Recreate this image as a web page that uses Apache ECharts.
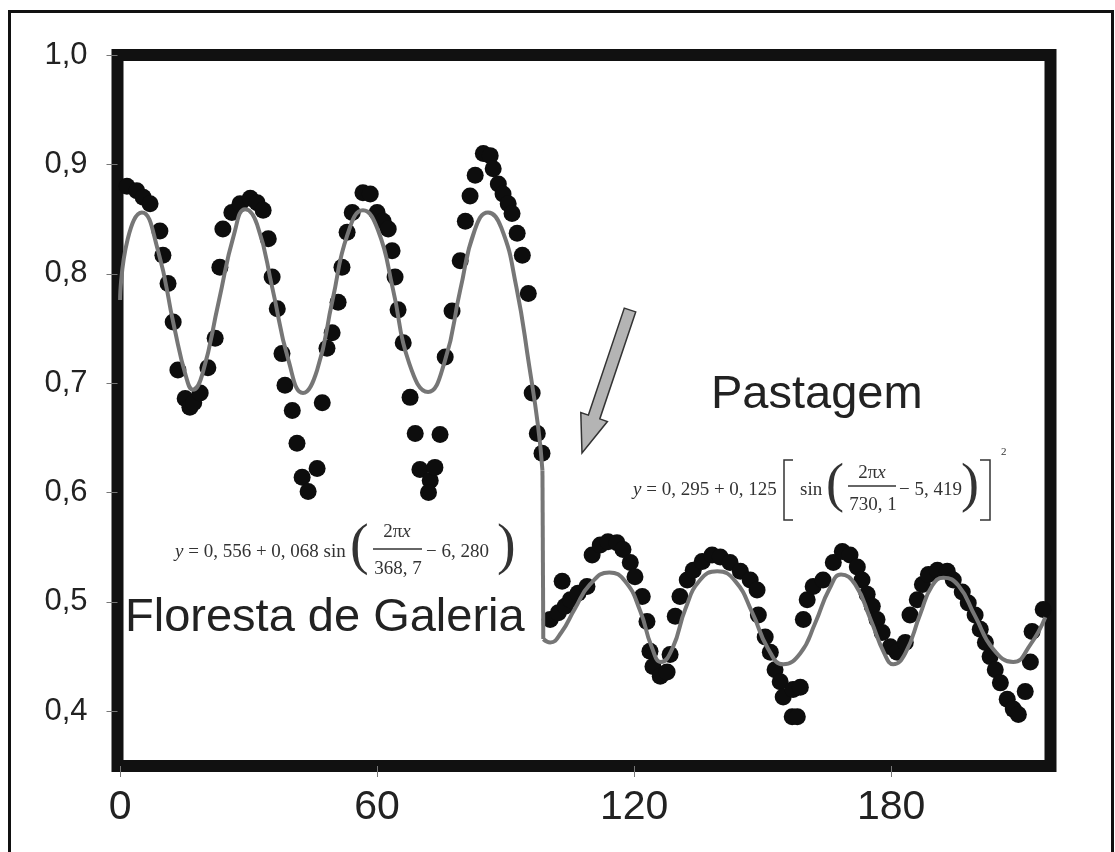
<!DOCTYPE html>
<html>
<head>
<meta charset="utf-8">
<title>Floresta de Galeria x Pastagem</title>
<script src="https://cdn.jsdelivr.net/npm/echarts@6/dist/echarts.min.js"></script>
<style>
  html, body { margin: 0; padding: 0; background: #fff; }
  #main { width: 1115px; height: 852px; }
</style>
</head>
<body>
<div id="main"></div>
<script>
// tick labels
var xTicks = [0, 60, 120, 180];
var yTicks = [0.4, 0.5, 0.6, 0.7, 0.8, 0.9, 1.0];

// observed points - Floresta de Galeria
var florestaPts = [
  [1.6, 0.880], [3.9, 0.876], [5.4, 0.870], [7.0, 0.864], [9.3, 0.839], [10.0, 0.817],
  [11.2, 0.791], [12.4, 0.756], [13.5, 0.712], [15.2, 0.686], [16.3, 0.678], [17.2, 0.682],
  [18.7, 0.691], [20.5, 0.714], [22.2, 0.741], [23.3, 0.806], [24.0, 0.841], [26.1, 0.856],
  [28.0, 0.864], [30.4, 0.869], [32.0, 0.865], [33.4, 0.858], [34.6, 0.832], [35.5, 0.797],
  [36.7, 0.768], [37.8, 0.727], [38.5, 0.698], [40.2, 0.675], [41.3, 0.645], [42.5, 0.614],
  [43.9, 0.601], [46.0, 0.622], [47.2, 0.682], [48.3, 0.732], [49.5, 0.746], [50.9, 0.774],
  [51.8, 0.806], [53.0, 0.838], [54.2, 0.856], [56.7, 0.874], [58.4, 0.873], [60.0, 0.856],
  [61.4, 0.848], [62.6, 0.841], [63.5, 0.821], [64.2, 0.797], [64.9, 0.767], [66.1, 0.737],
  [67.7, 0.687], [68.9, 0.654], [74.7, 0.653], [70.0, 0.621], [72.4, 0.611], [73.5, 0.623],
  [72.0, 0.600], [75.9, 0.724], [77.5, 0.766], [79.4, 0.812], [80.6, 0.848], [81.7, 0.871],
  [82.9, 0.890], [84.8, 0.910], [86.4, 0.908], [87.1, 0.896], [88.3, 0.882], [89.4, 0.873],
  [90.6, 0.864], [91.5, 0.855], [92.7, 0.837], [93.9, 0.817], [95.3, 0.782], [96.2, 0.691],
  [97.4, 0.654], [98.5, 0.636]
];

// observed points - Pastagem
var pastagemPts = [
  [100.4, 0.484], [102.3, 0.490], [103.9, 0.496], [105.1, 0.502], [103.2, 0.519], [106.9, 0.508],
  [109.0, 0.514], [110.2, 0.543], [112.1, 0.552], [113.9, 0.555], [116.0, 0.554], [117.4, 0.548],
  [119.1, 0.536], [120.2, 0.523], [121.9, 0.505], [123.0, 0.482], [123.7, 0.455], [124.4, 0.441],
  [126.1, 0.432], [127.7, 0.436], [128.4, 0.452], [129.6, 0.487], [130.7, 0.505], [132.4, 0.520],
  [133.8, 0.529], [135.9, 0.537], [138.2, 0.543], [140.1, 0.541], [142.4, 0.536], [144.8, 0.528],
  [147.1, 0.520], [148.7, 0.511], [149.0, 0.488], [150.6, 0.468], [151.8, 0.454], [152.9, 0.438],
  [154.1, 0.427], [154.8, 0.413], [157.1, 0.420], [158.8, 0.422], [156.9, 0.395], [158.1, 0.395],
  [159.5, 0.484], [160.4, 0.502], [161.8, 0.514], [164.1, 0.520], [166.5, 0.536], [168.6, 0.546],
  [170.4, 0.543], [172.1, 0.532], [173.2, 0.520], [174.4, 0.507], [175.6, 0.496], [176.7, 0.484],
  [177.9, 0.472], [179.8, 0.459], [181.4, 0.454], [183.3, 0.463], [184.4, 0.488], [186.1, 0.502],
  [187.3, 0.516], [188.7, 0.525], [190.8, 0.529], [193.1, 0.528], [194.5, 0.520], [196.6, 0.509],
  [198.0, 0.499], [199.6, 0.488], [200.8, 0.475], [202.0, 0.463], [203.1, 0.450], [204.3, 0.438],
  [205.5, 0.426], [207.1, 0.411], [208.5, 0.402], [209.7, 0.397], [211.3, 0.418], [212.5, 0.445],
  [212.9, 0.473], [215.5, 0.493]
];

// fitted curves
var florestaFit = [
  [0, 0.776], [1.8, 0.832], [5.1, 0.856], [8.8, 0.822], [12.6, 0.752], [15.4, 0.706],
  [17.0, 0.694], [19.2, 0.708], [23.0, 0.774], [26.6, 0.836], [29.2, 0.859], [32.0, 0.845],
  [35.6, 0.786], [39.3, 0.721], [42.7, 0.691], [46.0, 0.712], [49.6, 0.776], [53.1, 0.836],
  [56.7, 0.858], [60.2, 0.840], [63.7, 0.786], [67.5, 0.718], [71.9, 0.692], [75.8, 0.720],
  [79.4, 0.785], [82.8, 0.840], [85.9, 0.856], [89.0, 0.842], [92.5, 0.788], [95.5, 0.716],
  [97.6, 0.660], [98.6, 0.620]
];
var dropFit = [[98.6, 0.620], [98.8, 0.466]];
var pastagemFit = [
  [98.8, 0.466], [100.4, 0.463], [103.0, 0.472], [106.2, 0.494], [109.7, 0.516], [114.2, 0.527],
  [117.9, 0.519], [121.4, 0.492], [124.0, 0.460], [126.3, 0.445], [129.0, 0.458], [132.0, 0.494],
  [135.4, 0.520], [139.4, 0.528], [143.6, 0.519], [147.6, 0.490], [151.3, 0.457], [154.8, 0.443],
  [158.8, 0.453], [162.3, 0.481], [165.6, 0.512], [168.3, 0.525], [171.6, 0.516], [175.2, 0.484],
  [178.4, 0.453], [180.5, 0.443], [183.3, 0.453], [186.8, 0.489], [189.6, 0.515], [192.2, 0.522],
  [195.7, 0.515], [199.6, 0.487], [203.8, 0.457], [208.5, 0.445], [212.5, 0.461], [216.0, 0.486]
];

var chart = echarts.init(document.getElementById("main"));
var sans = "'Liberation Sans', Arial, sans-serif";
var serif = "'Liberation Serif', 'Times New Roman', serif";
var eqColor = "#333";
var fitStyle = { color: "#767676", width: 4 };

function eqText(x, y, text, opt) {
  opt = opt || {};
  return {
    type: "text", x: x, y: y, z: 20,
    style: {
      text: text,
      font: (opt.weight || "normal") + " " + (opt.size || 19) + "px " + serif,
      fill: eqColor,
      align: opt.align || "left",
      verticalAlign: "middle",
      rich: { i: { fontStyle: "italic", fontSize: opt.size || 19, fontFamily: serif, fill: eqColor } }
    }
  };
}
function eqLine(points) {
  return {
    type: "polyline", z: 20,
    shape: { points: points },
    style: { stroke: eqColor, lineWidth: 1.5, fill: null }
  };
}

chart.setOption({
  animation: false,
  backgroundColor: "#fff",
  grid: {
    left: 117.5, right: 64.5, top: 55, bottom: 86,
    show: true,
    borderColor: "#111",
    borderWidth: 12,
    backgroundColor: "#fff"
  },
  xAxis: {
    type: "value",
    min: -0.6,
    max: 217.2,
    axisLine: { show: false },
    splitLine: { show: false },
    axisTick: { show: true, length: 11, customValues: xTicks, lineStyle: { color: "#777", width: 1 } },
    axisLabel: {
      customValues: xTicks,
      margin: 21,
      color: "#222",
      fontFamily: sans,
      fontSize: 41
    }
  },
  yAxis: {
    type: "value",
    min: 0.35,
    max: 1.0,
    axisLine: { show: false, onZero: false },
    splitLine: { show: false },
    axisTick: { show: true, length: 11, customValues: yTicks, lineStyle: { color: "#777", width: 1 } },
    axisLabel: {
      customValues: yTicks,
      margin: 30,
      color: "#222",
      fontFamily: sans,
      fontSize: 31,
      formatter: function (v) { return v.toFixed(1).replace(".", ","); }
    }
  },
  series: [
    {
      name: "Floresta de Galeria",
      type: "scatter",
      data: florestaPts,
      symbolSize: 17,
      itemStyle: { color: "#0d0d0d", opacity: 1 },
      z: 3
    },
    {
      name: "Pastagem",
      type: "scatter",
      data: pastagemPts,
      symbolSize: 17,
      itemStyle: { color: "#0d0d0d", opacity: 1 },
      z: 3
    },
    {
      name: "ajuste floresta",
      type: "line",
      data: florestaFit,
      smooth: 0.5,
      showSymbol: false,
      lineStyle: fitStyle,
      z: 4
    },
    {
      name: "queda",
      type: "line",
      data: dropFit,
      showSymbol: false,
      lineStyle: fitStyle,
      z: 4
    },
    {
      name: "ajuste pastagem",
      type: "line",
      data: pastagemFit,
      smooth: 0.5,
      showSymbol: false,
      lineStyle: fitStyle,
      z: 4
    }
  ],
  graphic: [
    // thin outer border
    {
      type: "rect", z: 1, silent: true,
      shape: { x: 9.5, y: 11.5, width: 1103, height: 900 },
      style: { stroke: "#111", lineWidth: 3, fill: null }
    },
    // labels
    {
      type: "text", x: 125, y: 618, z: 20,
      style: { text: "Floresta de Galeria", font: "47px " + sans, fill: "#222", verticalAlign: "middle" }
    },
    {
      type: "text", x: 711, y: 395, z: 20,
      style: { text: "Pastagem", font: "47px " + sans, fill: "#222", verticalAlign: "middle" }
    },
    // arrow
    {
      type: "polygon", z: 20,
      shape: {
        points: [[624.3, 308.1], [635.7, 311.9], [599.8, 418.9], [607.4, 421.5],
                 [582, 453], [580.8, 412.5], [588.4, 415.1]]
      },
      style: { fill: "#b4b4b4", stroke: "#333", lineWidth: 1.5 }
    },
    // equação floresta
    eqText(175, 552, "{i|y} = 0, 556 + 0, 068 sin"),
    eqText(350, 548, "(", { size: 56, weight: "lighter" }),
    eqText(397, 532, "2π{i|x}", { align: "center" }),
    eqLine([[373, 549], [422, 549]]),
    eqText(398, 569, "368, 7", { align: "center" }),
    eqText(426, 552, "− 6, 280"),
    eqText(497, 548, ")", { size: 56, weight: "lighter" }),
    // equação pastagem
    eqText(633, 490, "{i|y} = 0, 295 + 0, 125"),
    eqLine([[793, 460], [784, 460], [784, 520], [793, 520]]),
    eqText(800, 490, "sin"),
    eqText(826, 487, "(", { size: 54, weight: "lighter" }),
    eqText(872, 473, "2π{i|x}", { align: "center" }),
    eqLine([[848, 486], [896, 486]]),
    eqText(873, 505, "730, 1", { align: "center" }),
    eqText(899, 490, "− 5, 419"),
    eqText(961, 487, ")", { size: 54, weight: "lighter" }),
    eqLine([[980, 460], [990, 460], [990, 520], [980, 520]]),
    eqText(1001, 452, "2", { size: 11 })
  ]
});

window.addEventListener("resize", function () {
  chart.resize();
});
</script>
</body>
</html>
